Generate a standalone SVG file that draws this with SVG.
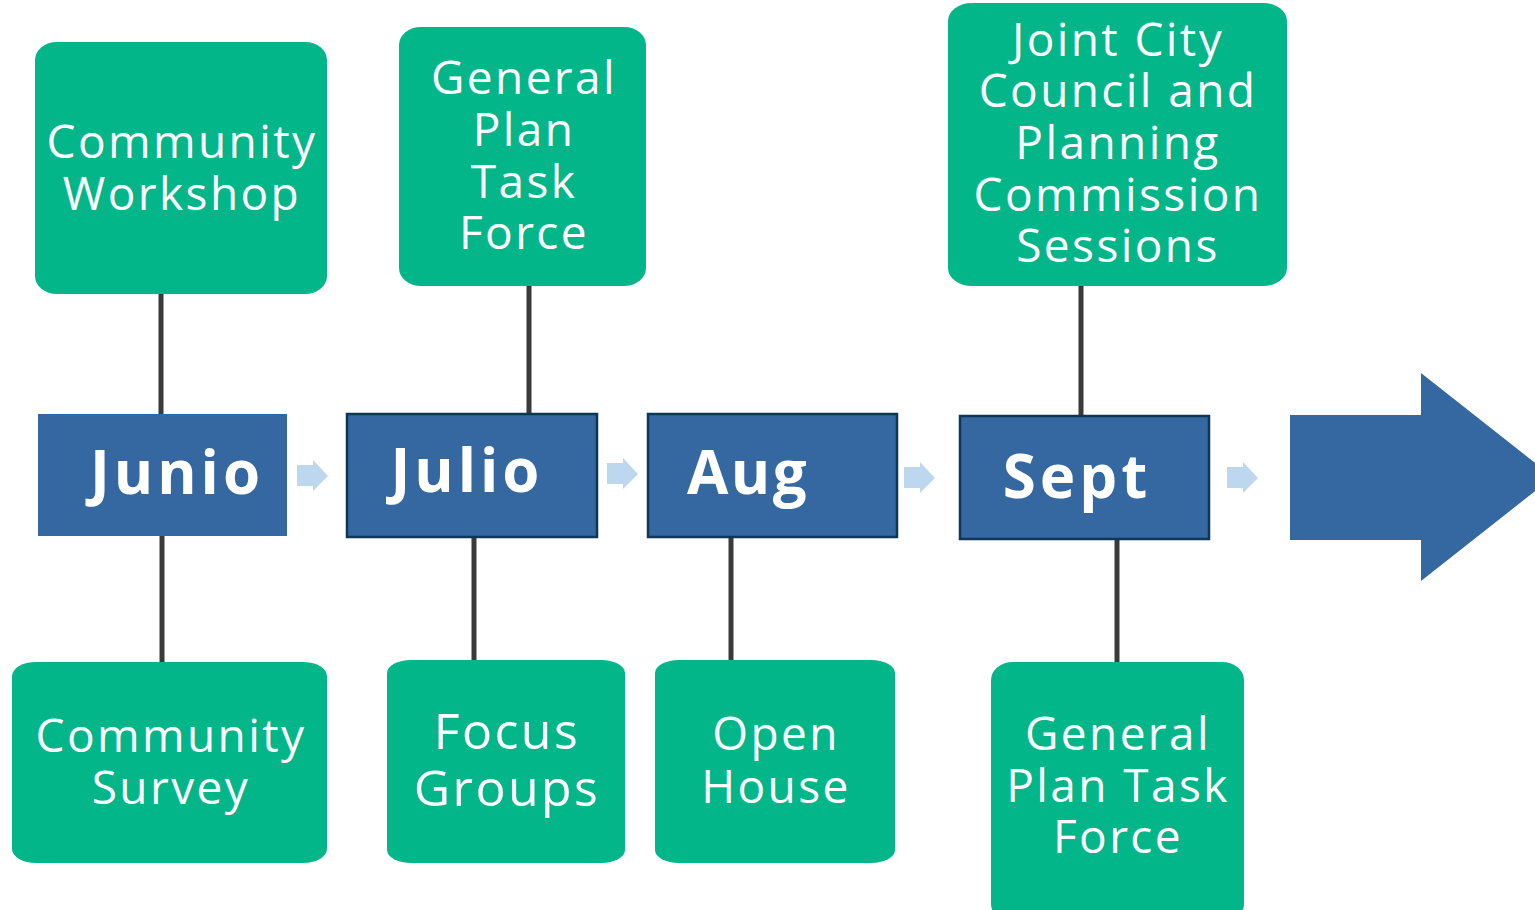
<svg xmlns="http://www.w3.org/2000/svg" width="1535" height="910" viewBox="0 0 1535 910">
<defs>
<style>
.g{fill:#02b689}
.t{fill:#fff;font-family:"Open Sans","Noto Sans",sans-serif;font-size:46px;text-anchor:middle;letter-spacing:2.4px}
.m{fill:#3567a0}
.mb{fill:#3567a0;stroke:#0c365a;stroke-width:2.5}
.mt{fill:#fff;font-family:"Open Sans","Noto Sans",sans-serif;font-size:60px;font-weight:bold;text-anchor:middle;letter-spacing:4px}
.c{stroke:#3a3a3a;stroke-width:5;fill:none}
.sa{fill:#bdd7ee}
</style>
</defs>
<g id="connectors">
<line class="c" x1="161" y1="294" x2="161" y2="416"/>
<line class="c" x1="162" y1="536" x2="162" y2="662"/>
<line class="c" x1="529" y1="286" x2="529" y2="414"/>
<line class="c" x1="474" y1="537" x2="474" y2="660"/>
<line class="c" x1="731" y1="537" x2="731" y2="660"/>
<line class="c" x1="1081" y1="286" x2="1081" y2="416"/>
<line class="c" x1="1117" y1="539" x2="1117" y2="662"/>
<polygon class="sa" points="297,465 313,465 313,460 328,476 313,491 313,486 297,486"/>
<polygon class="sa" points="607,463 623,463 623,458 638,474 623,489 623,484 607,484"/>
<polygon class="sa" points="904,467 920,467 920,462 935,478 920,493 920,488 904,488"/>
<polygon class="sa" points="1227,467 1243,467 1243,462 1258,478 1243,493 1243,488 1227,488"/>
</g>
<g id="big-arrow">
<polygon class="m" points="1290,415 1421,415 1421,373 1553,477 1421,581 1421,540 1290,540"/>
</g>
<g id="junio"><rect class="m" x="38" y="414" width="249" height="122"/><text class="mt" x="177" y="494">Junio</text></g>
<g id="julio"><rect class="mb" x="347" y="414" width="250" height="123"/><text class="mt" x="467" y="492">Julio</text></g>
<g id="aug"><rect class="mb" x="648" y="414" width="249" height="123"/><text class="mt" x="748" y="494" style="letter-spacing:2.5px">Aug</text></g>
<g id="sept"><rect class="mb" x="960" y="416" width="249" height="123"/><text class="mt" x="1077" y="498">Sept</text></g>
<g id="community-workshop"><rect class="g" x="35" y="42" width="292" height="252" rx="22" ry="18"/><text class="t" y="158"><tspan x="182">Community</tspan><tspan x="182" dy="52">Workshop</tspan></text></g>
<g id="gptf-top"><rect class="g" x="399" y="27" width="247" height="259" rx="22" ry="18"/><text class="t" y="94"><tspan x="524">General</tspan><tspan x="524" dy="52">Plan</tspan><tspan x="524" dy="52">Task</tspan><tspan x="524" dy="51">Force</tspan></text></g>
<g id="joint-city"><rect class="g" x="948" y="3" width="339" height="283" rx="24" ry="18"/><text class="t" y="56"><tspan x="1118">Joint City</tspan><tspan x="1118" dy="51">Council and</tspan><tspan x="1118" dy="52">Planning</tspan><tspan x="1118" dy="52">Commission</tspan><tspan x="1118" dy="51">Sessions</tspan></text></g>
<g id="community-survey"><rect class="g" x="12" y="662" width="315" height="201" rx="24" ry="14"/><text class="t" y="752"><tspan x="171">Community</tspan><tspan x="171" dy="52">Survey</tspan></text></g>
<g id="focus-groups"><rect class="g" x="387" y="660" width="238" height="203" rx="24" ry="13"/><text class="t" y="749" style="font-size:50px"><tspan x="507">Focus</tspan><tspan x="507" dy="57">Groups</tspan></text></g>
<g id="open-house"><rect class="g" x="655" y="660" width="240" height="203" rx="24" ry="13"/><text class="t" y="750"><tspan x="776">Open</tspan><tspan x="776" dy="53">House</tspan></text></g>
<g id="gptf-bottom"><rect class="g" x="991" y="662" width="253" height="260" rx="22" ry="18"/><text class="t" y="750"><tspan x="1118">General</tspan><tspan x="1118" dy="52">Plan Task</tspan><tspan x="1118" dy="51">Force</tspan></text></g>
</svg>
